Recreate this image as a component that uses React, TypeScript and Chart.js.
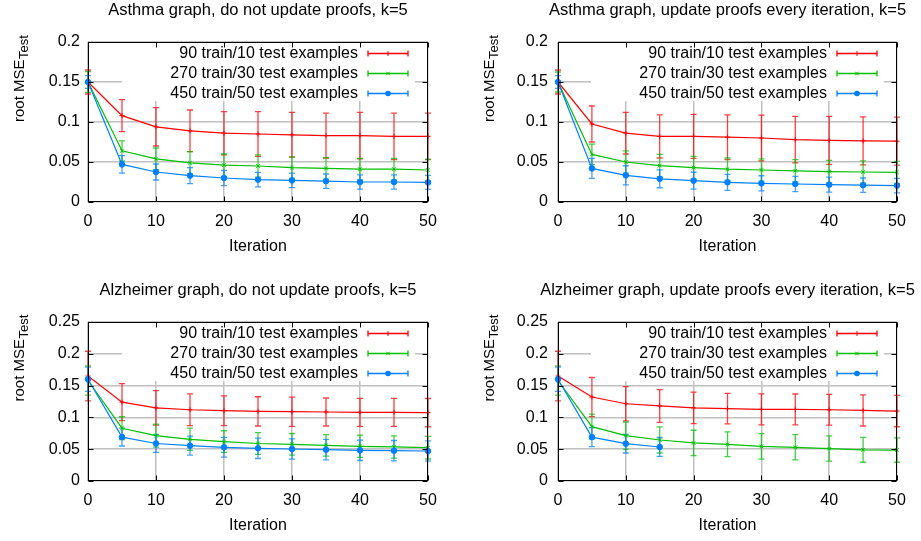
import React, { useEffect, useRef } from 'react';
import { Chart, registerables } from 'chart.js';

Chart.register(...registerables);

const FONT_FAMILY = '"Liberation Sans", Arial, Helvetica, sans-serif';

const ITERATIONS = [0, 5, 10, 15, 20, 25, 30, 35, 40, 45, 50];
const X_TICKS = [0, 10, 20, 30, 40, 50];
const Y_TICKS_ASTHMA = [0, 0.05, 0.1, 0.15, 0.2];
const Y_TICKS_ALZ = [0, 0.05, 0.1, 0.15, 0.2, 0.25];
const SERIES_LABELS = ['90 train/10 test examples', '270 train/30 test examples', '450 train/50 test examples'];
const PANEL_TITLES = [
  'Asthma graph, do not update proofs, k=5',
  'Asthma graph, update proofs every iteration, k=5',
  'Alzheimer graph, do not update proofs, k=5',
  'Alzheimer graph, update proofs every iteration, k=5',
];
const X_TITLE = 'Iteration';
const Y_TITLE_MAIN = 'root MSE';
const Y_TITLE_SUB = 'Test';

// Asthma, do not update proofs
const A_NO_RED = [0.150, 0.108, 0.094, 0.089, 0.086, 0.085, 0.084, 0.083, 0.083, 0.082, 0.082];
const A_NO_RED_ERR = [0.015, 0.020, 0.024, 0.026, 0.027, 0.028, 0.028, 0.028, 0.029, 0.029, 0.029];
const A_NO_GREEN = [0.150, 0.064, 0.054, 0.049, 0.046, 0.045, 0.043, 0.042, 0.041, 0.041, 0.040];
const A_NO_GREEN_ERR = [0.013, 0.0125, 0.0135, 0.014, 0.014, 0.0138, 0.0135, 0.0135, 0.0135, 0.0135, 0.0135];
const A_NO_BLUE = [0.150, 0.047, 0.0375, 0.033, 0.030, 0.028, 0.027, 0.026, 0.025, 0.025, 0.0245];
const A_NO_BLUE_ERR = [0.008, 0.011, 0.010, 0.010, 0.0095, 0.009, 0.009, 0.009, 0.009, 0.009, 0.0088];

// Asthma, update proofs every iteration
const A_UP_RED = [0.150, 0.0975, 0.086, 0.082, 0.082, 0.081, 0.080, 0.078, 0.077, 0.0765, 0.076];
const A_UP_RED_ERR = [0.015, 0.0225, 0.026, 0.027, 0.0275, 0.028, 0.0285, 0.029, 0.030, 0.030, 0.030];
const A_UP_GREEN = [0.150, 0.0595, 0.050, 0.0455, 0.043, 0.041, 0.040, 0.039, 0.038, 0.0375, 0.037];
const A_UP_GREEN_ERR = [0.0125, 0.0128, 0.014, 0.014, 0.014, 0.014, 0.014, 0.014, 0.014, 0.0138, 0.0137];
const A_UP_BLUE = [0.150, 0.042, 0.0333, 0.029, 0.0267, 0.0246, 0.0233, 0.0225, 0.0217, 0.021, 0.0205];
const A_UP_BLUE_ERR = [0.008, 0.0125, 0.012, 0.0112, 0.0105, 0.010, 0.0095, 0.0095, 0.0093, 0.009, 0.009];

// Alzheimer, do not update proofs
const Z_NO_RED = [0.165, 0.124, 0.115, 0.112, 0.1105, 0.1095, 0.109, 0.1085, 0.108, 0.108, 0.1075];
const Z_NO_RED_ERR = [0.039, 0.029, 0.027, 0.025, 0.0235, 0.023, 0.023, 0.022, 0.022, 0.022, 0.0222];
const Z_NO_GREEN = [0.158, 0.083, 0.0713, 0.0655, 0.062, 0.059, 0.0577, 0.056, 0.0545, 0.0535, 0.0524];
const Z_NO_GREEN_ERR = [0.023, 0.018, 0.018, 0.0175, 0.017, 0.017, 0.017, 0.017, 0.0175, 0.0175, 0.0178];
const Z_NO_BLUE = [0.160, 0.069, 0.059, 0.0556, 0.053, 0.0514, 0.0503, 0.0493, 0.0482, 0.0477, 0.0472];
const Z_NO_BLUE_ERR = [0.019, 0.014, 0.014, 0.015, 0.0155, 0.016, 0.016, 0.016, 0.016, 0.016, 0.016];

// Alzheimer, update proofs every iteration
const Z_UP_RED = [0.165, 0.132, 0.1215, 0.118, 0.115, 0.1137, 0.1127, 0.1125, 0.112, 0.111, 0.110];
const Z_UP_RED_ERR = [0.039, 0.0307, 0.027, 0.0257, 0.0247, 0.024, 0.0244, 0.0243, 0.0243, 0.0245, 0.0247];
const Z_UP_GREEN = [0.158, 0.0855, 0.0713, 0.0645, 0.0598, 0.0577, 0.0545, 0.053, 0.051, 0.049, 0.0487];
const Z_UP_GREEN_ERR = [0.023, 0.0198, 0.0215, 0.0205, 0.020, 0.0195, 0.020, 0.0198, 0.0198, 0.0195, 0.0192];
const Z_UP_BLUE = [0.160, 0.069, 0.0587, 0.0535];
const Z_UP_BLUE_ERR = [0.019, 0.015, 0.0147, 0.0149];

const COLORS = ['#ff0000', '#00c000', '#0080ff'];
const ERR_COLORS = ['rgba(255,0,0,0.75)', 'rgba(0,192,0,0.75)', 'rgba(0,128,255,0.75)'];
const POINT_STYLES = ['cross', 'crossRot', 'circle'];
const GRID_COLOR = '#c0c0c0';

type Series = { mean: number[]; err: number[] };
type PanelCfg = {
  title: string;
  yTicks: number[];
  x: number; y: number; w: number; h: number;
  pl: number; pr: number; pt: number; pb: number;
  series: Series[];
};

const PANELS: PanelCfg[] = [
  { title: PANEL_TITLES[0], yTicks: Y_TICKS_ASTHMA, x: 0, y: 0, w: 460, h: 270, pl: 88, pr: 428, pt: 42, pb: 202,
    series: [{ mean: A_NO_RED, err: A_NO_RED_ERR }, { mean: A_NO_GREEN, err: A_NO_GREEN_ERR }, { mean: A_NO_BLUE, err: A_NO_BLUE_ERR }] },
  { title: PANEL_TITLES[1], yTicks: Y_TICKS_ASTHMA, x: 460, y: 0, w: 461, h: 270, pl: 98, pr: 437, pt: 42, pb: 202,
    series: [{ mean: A_UP_RED, err: A_UP_RED_ERR }, { mean: A_UP_GREEN, err: A_UP_GREEN_ERR }, { mean: A_UP_BLUE, err: A_UP_BLUE_ERR }] },
  { title: PANEL_TITLES[2], yTicks: Y_TICKS_ALZ, x: 0, y: 270, w: 460, h: 271, pl: 88, pr: 428, pt: 52, pb: 211,
    series: [{ mean: Z_NO_RED, err: Z_NO_RED_ERR }, { mean: Z_NO_GREEN, err: Z_NO_GREEN_ERR }, { mean: Z_NO_BLUE, err: Z_NO_BLUE_ERR }] },
  { title: PANEL_TITLES[3], yTicks: Y_TICKS_ALZ, x: 460, y: 270, w: 461, h: 271, pl: 98, pr: 437, pt: 52, pb: 211,
    series: [{ mean: Z_UP_RED, err: Z_UP_RED_ERR }, { mean: Z_UP_GREEN, err: Z_UP_GREEN_ERR }, { mean: Z_UP_BLUE, err: Z_UP_BLUE_ERR }] },
];

function drawMarker(ctx: CanvasRenderingContext2D, style: string, x: number, y: number, r: number, color: string) {
  ctx.save();
  ctx.strokeStyle = color;
  ctx.fillStyle = color;
  ctx.lineWidth = 1;
  ctx.beginPath();
  if (style === 'cross') {
    ctx.moveTo(x - r, y); ctx.lineTo(x + r, y);
    ctx.moveTo(x, y - r); ctx.lineTo(x, y + r);
    ctx.stroke();
  } else if (style === 'crossRot') {
    const d = r * 0.7071;
    ctx.moveTo(x - d, y - d); ctx.lineTo(x + d, y + d);
    ctx.moveTo(x + d, y - d); ctx.lineTo(x - d, y + d);
    ctx.stroke();
  } else {
    ctx.arc(x, y, r, 0, Math.PI * 2);
    ctx.fill();
  }
  ctx.restore();
}

function makePlugin(cfg: PanelCfg) {
  return {
    id: 'gnuStyle',
    beforeDatasetsDraw(chart: any) {
      const ctx: CanvasRenderingContext2D = chart.ctx;
      const a = chart.chartArea;
      // opaque key box
      ctx.save();
      ctx.fillStyle = '#ffffff';
      ctx.fillRect(a.right - 306, a.top + 1, 293, 58);
      ctx.restore();
      // error bars
      const ys = chart.scales.y;
      chart.data.datasets.forEach((ds: any, i: number) => {
        const meta = chart.getDatasetMeta(i);
        const s = cfg.series[i];
        ctx.save();
        ctx.strokeStyle = ERR_COLORS[i];
        ctx.lineWidth = 1.3;
        meta.data.forEach((el: any, j: number) => {
          const x = el.x;
          const top = ys.getPixelForValue(s.mean[j] + s.err[j]);
          const bot = ys.getPixelForValue(s.mean[j] - s.err[j]);
          ctx.beginPath();
          ctx.moveTo(x, top); ctx.lineTo(x, bot);
          ctx.moveTo(x - 3, top); ctx.lineTo(x + 3, top);
          ctx.moveTo(x - 3, bot); ctx.lineTo(x + 3, bot);
          ctx.stroke();
        });
        ctx.restore();
      });
    },
    afterDraw(chart: any) {
      const ctx: CanvasRenderingContext2D = chart.ctx;
      const a = chart.chartArea;
      const xs = chart.scales.x;
      const ys = chart.scales.y;
      ctx.save();
      // frame
      ctx.strokeStyle = '#000000';
      ctx.lineWidth = 1;
      const L = Math.round(a.left) + 0.5, R = Math.round(a.right) - 0.5;
      const T = Math.round(a.top) + 0.5, B = Math.round(a.bottom) - 0.5;
      ctx.strokeRect(L, T, R - L, B - T);
      // inward tick marks, mirrored
      ctx.beginPath();
      X_TICKS.forEach((v) => {
        const px = Math.round(xs.getPixelForValue(v)) + 0.5;
        ctx.moveTo(px, B); ctx.lineTo(px, B - 5);
        ctx.moveTo(px, T); ctx.lineTo(px, T + 5);
      });
      cfg.yTicks.forEach((v) => {
        const py = Math.round(ys.getPixelForValue(v)) + 0.5;
        ctx.moveTo(L, py); ctx.lineTo(L + 5, py);
        ctx.moveTo(R, py); ctx.lineTo(R - 5, py);
      });
      ctx.stroke();

      // title
      ctx.fillStyle = '#000000';
      ctx.font = `16.5px ${FONT_FAMILY}`;
      ctx.textAlign = 'center';
      ctx.textBaseline = 'middle';
      ctx.fillText(cfg.title, (a.left + a.right) / 2, a.top - 31.5);

      // y title with subscript
      ctx.save();
      ctx.translate(a.left - 64, (a.top + a.bottom) / 2);
      ctx.rotate(-Math.PI / 2);
      ctx.textAlign = 'left';
      ctx.textBaseline = 'alphabetic';
      ctx.font = `15px ${FONT_FAMILY}`;
      ctx.fillText(Y_TITLE_MAIN, 0, 0);
      const w = ctx.measureText(Y_TITLE_MAIN).width;
      ctx.font = `13px ${FONT_FAMILY}`;
      ctx.fillText(Y_TITLE_SUB, w + 0.5, 4);
      ctx.restore();

      // key
      ctx.font = `16px ${FONT_FAMILY}`;
      ctx.textAlign = 'right';
      ctx.textBaseline = 'middle';
      SERIES_LABELS.forEach((label, i) => {
        const y = a.top + 11.5 + 20 * i;
        ctx.fillStyle = '#000000';
        ctx.fillText(label, a.right - 70, y);
        const x0 = a.right - 60, x1 = a.right - 20;
        ctx.strokeStyle = COLORS[i];
        ctx.lineWidth = 1.3;
        ctx.beginPath();
        ctx.moveTo(x0, y); ctx.lineTo(x1, y);
        ctx.moveTo(x0, y - 3); ctx.lineTo(x0, y + 3);
        ctx.moveTo(x1, y - 3); ctx.lineTo(x1, y + 3);
        ctx.stroke();
        drawMarker(ctx, POINT_STYLES[i], (x0 + x1) / 2, y, i === 2 ? 2.8 : 2.5, COLORS[i]);
      });
      ctx.restore();
    },
  };
}

function Panel({ cfg }: { cfg: PanelCfg }) {
  const ref = useRef<HTMLCanvasElement>(null);
  useEffect(() => {
    const canvas = ref.current;
    if (!canvas) return;
    const tickFont = { family: FONT_FAMILY, size: 16 };
    const yMax = cfg.yTicks[cfg.yTicks.length - 1];
    const titleCenterY = cfg.pb + 44.5;
    const lineH = 16 * 1.2;
    const chart = new Chart(canvas, {
      type: 'line',
      data: {
        datasets: cfg.series.map((s, i) => ({
          label: SERIES_LABELS[i],
          data: s.mean.map((v, j) => ({ x: ITERATIONS[j], y: v })),
          borderColor: COLORS[i],
          backgroundColor: COLORS[i],
          borderWidth: 1.2,
          pointStyle: POINT_STYLES[i] as any,
          pointRadius: i === 2 ? 2.8 : 2.5,
          pointBorderWidth: 1,
          pointBorderColor: COLORS[i],
          pointBackgroundColor: COLORS[i],
          tension: 0,
          fill: false,
          clip: false as any,
          order: 3 - i,
        })),
      },
      options: {
        responsive: false,
        maintainAspectRatio: false,
        animation: false,
        events: [],
        layout: { padding: { top: cfg.pt, right: cfg.w - cfg.pr, left: 0, bottom: 0 } },
        plugins: { legend: { display: false }, tooltip: { enabled: false }, title: { display: false } },
        scales: {
          x: {
            type: 'linear',
            min: 0,
            max: 50,
            afterBuildTicks: (s: any) => { s.ticks = X_TICKS.map((v) => ({ value: v })); },
            afterFit: (s: any) => { s.height = cfg.h - cfg.pb; },
            grid: { color: GRID_COLOR, lineWidth: 1.5, drawTicks: false },
            border: { display: false },
            ticks: { padding: 10, font: tickFont, color: '#000', maxRotation: 0, autoSkip: false, callback: (v: any) => String(v) },
            title: { display: true, text: X_TITLE, color: '#000', font: tickFont, padding: { top: 0, bottom: cfg.h - titleCenterY - lineH / 2 } },
          },
          y: {
            type: 'linear',
            min: 0,
            max: yMax,
            afterBuildTicks: (s: any) => { s.ticks = cfg.yTicks.map((v) => ({ value: v })); },
            afterFit: (s: any) => { s.width = cfg.pl; },
            grid: { color: GRID_COLOR, lineWidth: 1.5, drawTicks: false },
            border: { display: false },
            ticks: { padding: cfg.pl === 88 ? 8 : 10, font: tickFont, color: '#000', autoSkip: false, callback: (v: any) => String(v) },
          },
        },
      },
      plugins: [makePlugin(cfg)],
    } as any);
    return () => chart.destroy();
  }, [cfg]);
  return (
    <canvas
      ref={ref}
      width={cfg.w}
      height={cfg.h}
      style={{ position: 'absolute', left: cfg.x, top: cfg.y, width: cfg.w, height: cfg.h, display: 'block' }}
    />
  );
}

export default function App() {
  return (
    <div style={{ position: 'fixed', left: 0, top: 0, width: 921, height: 541, background: '#ffffff', overflow: 'hidden' }}>
      {PANELS.map((p, i) => (
        <Panel key={i} cfg={p} />
      ))}
    </div>
  );
}
